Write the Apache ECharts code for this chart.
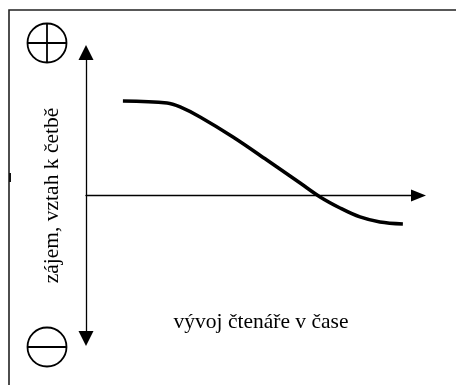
<!DOCTYPE html>
<html>
<head>
<meta charset="utf-8">
<script src="https://cdn.jsdelivr.net/npm/echarts@6/dist/echarts.min.js"></script>
<style>
  html, body { margin: 0; padding: 0; background: #fff; }
  #main { width: 456px; height: 385px; }
</style>
</head>
<body>
<div id="main"></div>
<script>
// čas (osa x) a zájem (osa y)
const casX = [11.1, 24.4, 28.3, 34.3, 44.2, 54.4, 64.4, 70.4, 76.4, 82.4, 88.4, 95.3]
const zajemY = [0.661, 0.647, 0.619, 0.549, 0.409, 0.248, 0.087, -0.010, -0.087, -0.150, -0.185, -0.199]
const nazevY = 'zájem, vztah k četbě'
const nazevX = 'vývoj čtenáře v čase'

const font = '"Liberation Serif", "DejaVu Serif", serif'
const chart = echarts.init(document.getElementById('main'))

chart.setOption({
  animation: false,
  backgroundColor: '#fff',
  grid: { left: 86, right: 37.5, top: 52.5, bottom: 46.5 },
  xAxis: {
    type: 'value', min: 0, max: 100,
    axisLine: {
      onZero: true,
      symbol: ['none', 'triangle'],
      symbolSize: [12, 15],
      lineStyle: { color: '#000', width: 1.3 }
    },
    axisTick: { show: false }, axisLabel: { show: false }, splitLine: { show: false }
  },
  yAxis: {
    type: 'value', min: -1, max: 1,
    name: nazevY,
    nameLocation: 'middle',
    nameRotate: 90,
    nameGap: 23,
    nameTextStyle: { fontFamily: font, fontSize: 21.5, color: '#000' },
    axisLine: {
      show: true,
      symbol: ['triangle', 'triangle'],
      symbolSize: [15, 15],
      lineStyle: { color: '#000', width: 1.3 }
    },
    axisTick: { show: false }, axisLabel: { show: false }, splitLine: { show: false }
  },
  series: [{
    type: 'line',
    data: casX.map((x, i) => [x, zajemY[i]]),
    smooth: 0.35,
    showSymbol: false,
    lineStyle: { color: '#000', width: 3.5 }
  }],
  graphic: [
    // rámeček (jen horní a levá hrana jsou vidět)
    { type: 'rect', shape: { x: 9, y: 10, width: 470, height: 400 },
      style: { fill: 'none', stroke: '#222', lineWidth: 1.6 } },
    { type: 'rect', shape: { x: 9, y: 173, width: 2, height: 9 }, style: { fill: '#111' } },
    // plus v kroužku
    { type: 'circle', shape: { cx: 47, cy: 43, r: 19.5 }, style: { fill: 'none', stroke: '#000', lineWidth: 1.8 } },
    { type: 'line', shape: { x1: 27.5, y1: 43, x2: 66.5, y2: 43 }, style: { stroke: '#000', lineWidth: 1.8 } },
    { type: 'line', shape: { x1: 47, y1: 23.5, x2: 47, y2: 62.5 }, style: { stroke: '#000', lineWidth: 1.8 } },
    // minus v kroužku
    { type: 'circle', shape: { cx: 47, cy: 347, r: 19.5 }, style: { fill: 'none', stroke: '#000', lineWidth: 1.8 } },
    { type: 'line', shape: { x1: 27.5, y1: 347, x2: 66.5, y2: 347 }, style: { stroke: '#000', lineWidth: 1.8 } },
    // popis osy x
    { type: 'text', x: 261, y: 322,
      style: { text: nazevX, font: '21.5px ' + font, fill: '#000', align: 'center', verticalAlign: 'middle' } }
  ]
})
</script>
</body>
</html>
